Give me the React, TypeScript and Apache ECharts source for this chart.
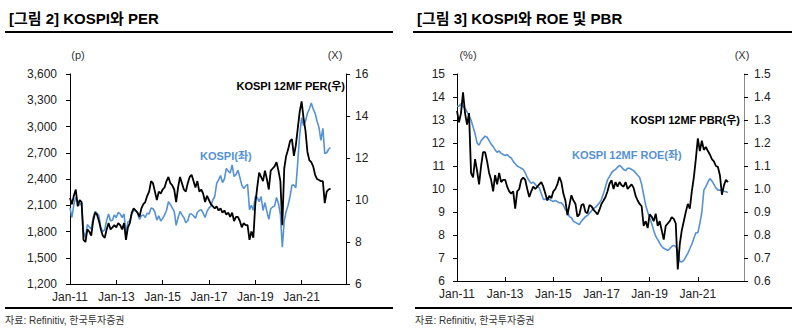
import React, { useEffect, useRef } from "react";
import * as echarts from "echarts";

const MONTH_NAMES = ["Jan", "Feb", "Mar", "Apr", "May", "Jun", "Jul", "Aug", "Sep", "Oct", "Nov", "Dec"];
const months: string[] = [];
for (let y = 2011; y <= 2022; y++) for (const m of MONTH_NAMES) months.push(`${m}-${String(y).slice(2)}`);

// KOSPI index (left axis, left chart) Jan-11 .. Apr-22
const kospi = [
  2070, 1960, 2110, 2190, 2140, 2100, 2130, 1800, 1730, 1880, 1850, 1830,
  1960, 2030, 2010, 1980, 1840, 1800, 1820, 1930, 2000, 1920, 1930, 1990,
  1960, 2020, 2000, 1960, 2000, 1780, 1910, 1920, 2000, 2040, 2040, 2010,
  1940, 1980, 1990, 1960, 2010, 2000, 2070, 2060, 2020, 1930, 1980, 1920,
  1950, 1990, 2040, 2140, 2110, 2070, 2030, 1870, 1960, 2030, 1990, 1960,
  1900, 1920, 2000, 2000, 1980, 1950, 2020, 2040, 2050, 2010, 1960, 2030,
  2070, 2090, 2160, 2200, 2350, 2390, 2440, 2360, 2400, 2520, 2490, 2470,
  2560, 2430, 2450, 2500, 2420, 2330, 2290, 2320, 2340, 2050, 2100, 2040,
  2200, 2190, 2140, 2200, 2040, 2130, 2030, 1940, 2060, 2080, 2090, 2190,
  2120, 2000, 1620, 1920, 2030, 2100, 2200, 2330, 2330, 2300, 2590, 2900,
  3100, 3010, 3060, 3150, 3200, 3270, 3200, 3150, 3060, 2990, 2840, 2980,
  2690, 2700, 2740, 2760,
];

// KOSPI 12MF PER (right axis, left chart)
const per = [
  10.1, 9.8, 10.2, 10.5, 9.7, 10.0, 9.9, 8.1, 8.0, 8.6, 8.5, 8.3,
  9.0, 9.4, 9.3, 9.0, 8.6, 8.3, 8.2, 8.6, 8.9, 8.6, 8.7, 8.8,
  8.7, 8.9, 8.8, 8.6, 8.9, 8.1, 8.7, 8.9, 9.4, 9.6, 9.5, 9.4,
  9.2, 9.6, 9.8, 9.9, 10.2, 10.4, 10.9, 10.8, 10.4, 10.0, 10.4, 10.3,
  10.5, 10.6, 10.9, 11.1, 10.8, 10.7, 10.5, 9.9, 10.6, 11.1, 10.8, 10.5,
  10.4, 10.8, 11.1, 11.2, 10.9, 10.6, 10.9, 10.4, 10.5, 10.3, 9.9, 10.2,
  10.0, 9.8, 9.7, 9.6, 9.7, 9.5, 9.6, 9.4, 9.5, 9.3, 9.4, 9.2,
  9.4, 9.0, 9.2, 9.2, 9.0, 8.7, 8.9, 8.8, 8.8, 8.1, 8.5, 8.2,
  9.8, 10.6, 11.3, 11.1, 10.9, 11.4, 11.0, 10.5, 11.4, 11.5, 11.6, 11.8,
  11.4, 10.9, 8.8, 11.5, 12.1, 12.4, 12.8, 12.9, 12.1, 12.6, 13.4, 14.2,
  14.7, 13.9, 13.3, 12.3, 11.9, 11.8, 11.6, 11.2, 11.0, 10.95, 10.9, 10.9,
  9.85, 10.4, 10.5, 10.55,
];

// KOSPI 12MF ROE (%) (left axis, right chart)
const roe = [
  13.6, 13.6, 13.7, 13.6, 13.5, 13.35, 13.2, 13.0, 12.7, 12.4, 12.0, 11.9,
  12.1, 12.2, 12.3, 12.25, 12.1, 11.95, 11.85, 11.7, 11.6, 11.65, 11.55, 11.5,
  11.45, 11.5, 11.4, 11.35, 11.2, 11.1, 11.0, 10.95, 10.9, 10.85, 10.7, 10.5,
  10.35, 10.25, 10.3, 10.2, 10.1, 10.05, 9.8, 9.55, 9.55, 9.6, 9.55, 9.5,
  9.45, 9.5, 9.45, 9.4, 9.4, 9.3, 9.1, 9.0, 8.8, 8.75, 8.6, 8.55,
  8.5, 8.45, 8.6, 8.7, 8.8, 8.85, 8.95, 9.05, 9.15, 9.2, 9.3, 9.4,
  9.55, 9.8, 10.1, 10.4, 10.55, 10.7, 10.8, 10.85, 10.95, 11.03, 10.95, 10.85,
  10.8, 10.9, 10.9, 10.85, 10.8, 10.7, 10.6, 10.5, 10.2, 9.75, 9.3, 9.0,
  8.75, 8.5, 8.2, 7.95, 7.8, 7.65, 7.5, 7.42, 7.38, 7.33, 7.4, 7.5,
  7.55, 7.5, 7.3, 6.85, 6.83, 6.9, 7.05, 7.2, 7.4, 7.6, 7.85, 8.1,
  8.1, 8.5, 9.0, 9.95, 10.1, 10.3, 10.45, 10.35, 10.2, 10.05, 9.95, 9.95,
  9.94, 9.9, 9.88, 9.85,
];

// KOSPI 12MF PBR (x) (right axis, right chart)
const pbr = [
  1.34, 1.29, 1.33, 1.42, 1.33, 1.28, 1.33, 1.07, 1.05, 1.13, 1.08, 1.02,
  1.10, 1.16, 1.16, 1.12, 1.07, 1.04, 0.99, 1.06, 1.02, 1.07, 1.03, 1.04,
  1.04, 1.01, 0.99, 0.98, 0.99, 0.915, 0.99, 1.0, 1.04, 1.05, 1.04, 1.0,
  0.965, 0.99, 1.01, 1.0, 1.01, 1.02, 1.03, 1.01, 0.98, 0.95, 0.97, 0.96,
  0.99, 1.0, 1.02, 1.052, 1.03, 0.98, 0.95, 0.886, 0.93, 0.973, 0.95, 0.936,
  0.88, 0.89, 0.93, 0.935, 0.9, 0.895, 0.93, 0.925, 0.91, 0.9, 0.89, 0.91,
  0.936, 0.95, 0.965, 0.99, 1.023, 1.038, 1.0, 1.03, 1.01, 1.03, 1.016, 1.01,
  1.03, 1.0, 1.01, 1.02, 1.005, 0.97, 0.95, 0.935, 0.925, 0.84, 0.86, 0.83,
  0.89, 0.88, 0.86, 0.893, 0.84, 0.86, 0.82, 0.78, 0.84, 0.85, 0.86, 0.878,
  0.87, 0.85, 0.65, 0.76, 0.82, 0.86, 0.9, 0.935, 0.915, 0.99, 1.05, 1.13,
  1.22, 1.165, 1.21, 1.17, 1.183, 1.165, 1.15, 1.13, 1.12, 1.10, 1.096, 1.06,
  0.975, 1.016, 1.04, 1.03,
];

const BLUE = "#5592d4";
const LABEL_FONT = "'Liberation Sans', Arial, sans-serif";
const KR_FONT = "'Liberation Sans', 'Noto Sans CJK KR', sans-serif";

const showEvery24 = (i: number) => i % 24 === 0;

function xAxis(gridIndex: number) {
  return {
    type: "category",
    gridIndex,
    data: months,
    boundaryGap: false,
    axisLine: { lineStyle: { color: "#000", width: 1 } },
    axisTick: { show: true, inside: true, length: 4, interval: showEvery24, lineStyle: { color: "#000" } },
    axisLabel: { interval: showEvery24, color: "#222", fontSize: 12, margin: 7, fontFamily: LABEL_FONT },
    splitLine: { show: false },
  };
}

function yAxis(gridIndex: number, position: string, min: number, max: number, interval: number, fmt: (v: number) => string, margin: number, lineColor = "#000") {
  return {
    type: "value",
    gridIndex,
    position,
    min,
    max,
    interval,
    axisLine: { show: true, lineStyle: { color: lineColor, width: 1 } },
    axisTick: { show: true, inside: false, length: 4, lineStyle: { color: "#000" } },
    axisLabel: { color: "#222", fontSize: 12, margin, fontFamily: LABEL_FONT, formatter: fmt },
    splitLine: { show: false },
  };
}

export default function App() {
  const ref = useRef<HTMLDivElement>(null);
  useEffect(() => {
    if (!ref.current) return;
    const chart = echarts.init(ref.current, null, { renderer: "svg" });
    const txt = (x: number, y: number, text: string, opts: any = {}) => ({
      type: "text",
      x,
      y,
      style: {
        text,
        fill: opts.fill || "#000",
        font: `${opts.weight || "normal"} ${opts.size || 11}px ${opts.family || KR_FONT}`,
        textAlign: opts.align || "left",
        textVerticalAlign: "middle",
      },
    });
    const hline = (x1: number, x2: number, y: number, w: number) => ({
      type: "line",
      shape: { x1, y1: y, x2, y2: y },
      style: { stroke: "#000", lineWidth: w },
    });
    chart.setOption({
      animation: false,
      backgroundColor: "#fff",
      grid: [
        { left: 70, top: 74, width: 276, height: 210 },
        { left: 457, top: 74, width: 287, height: 207 },
      ],
      xAxis: [xAxis(0), xAxis(1)],
      yAxis: [
        yAxis(0, "left", 1200, 3600, 300, (v: number) => v.toLocaleString("en-US"), 13),
        yAxis(0, "right", 6, 16, 2, (v: number) => String(v), 9),
        yAxis(1, "left", 6, 15, 1, (v: number) => String(v), 12),
        yAxis(1, "right", 0.6, 1.5, 0.1, (v: number) => v.toFixed(1), 10, "#888"),
      ],
      series: [
        { type: "line", xAxisIndex: 0, yAxisIndex: 0, data: kospi, showSymbol: false, lineStyle: { color: BLUE, width: 1.6 }, z: 2 },
        { type: "line", xAxisIndex: 0, yAxisIndex: 1, data: per, showSymbol: false, lineStyle: { color: "#000", width: 1.8 }, z: 3 },
        { type: "line", xAxisIndex: 1, yAxisIndex: 2, data: roe, showSymbol: false, lineStyle: { color: BLUE, width: 1.6 }, z: 2 },
        { type: "line", xAxisIndex: 1, yAxisIndex: 3, data: pbr, showSymbol: false, lineStyle: { color: "#000", width: 1.8 }, z: 3 },
      ],
      graphic: [
        txt(9, 18, "[그림 2] KOSPI와 PER", { weight: "bold", size: 15 }),
        txt(417, 18, "[그림 3] KOSPI와 ROE 및 PBR", { weight: "bold", size: 15 }),
        hline(5, 393, 32, 2),
        hline(413, 792, 32, 2),
        hline(5, 393, 308, 2),
        hline(415, 792, 308, 2),
        txt(5, 320, "자료: Refinitiv, 한국투자증권", { size: 10, fill: "#333" }),
        txt(415, 320, "자료: Refinitiv, 한국투자증권", { size: 10, fill: "#333" }),
        txt(78, 55, "(p)", { align: "center", fill: "#333" }),
        txt(335, 55, "(X)", { align: "center", fill: "#333" }),
        txt(468, 55, "(%)", { align: "center", fill: "#333" }),
        txt(742, 55, "(X)", { align: "center", fill: "#333" }),
        txt(345, 86, "KOSPI 12MF PER(우)", { weight: "bold", size: 11, align: "right" }),
        txt(200, 156, "KOSPI(좌)", { weight: "bold", size: 11, fill: BLUE }),
        txt(740, 120, "KOSPI 12MF PBR(우)", { weight: "bold", size: 11, align: "right" }),
        txt(572, 155, "KOSPI 12MF ROE(좌)", { weight: "bold", size: 11, fill: BLUE }),
      ],
    });
    return () => chart.dispose();
  }, []);
  return <div ref={ref} style={{ position: "fixed", left: 0, top: 0, width: 794, height: 332, background: "#fff" }} />;
}
